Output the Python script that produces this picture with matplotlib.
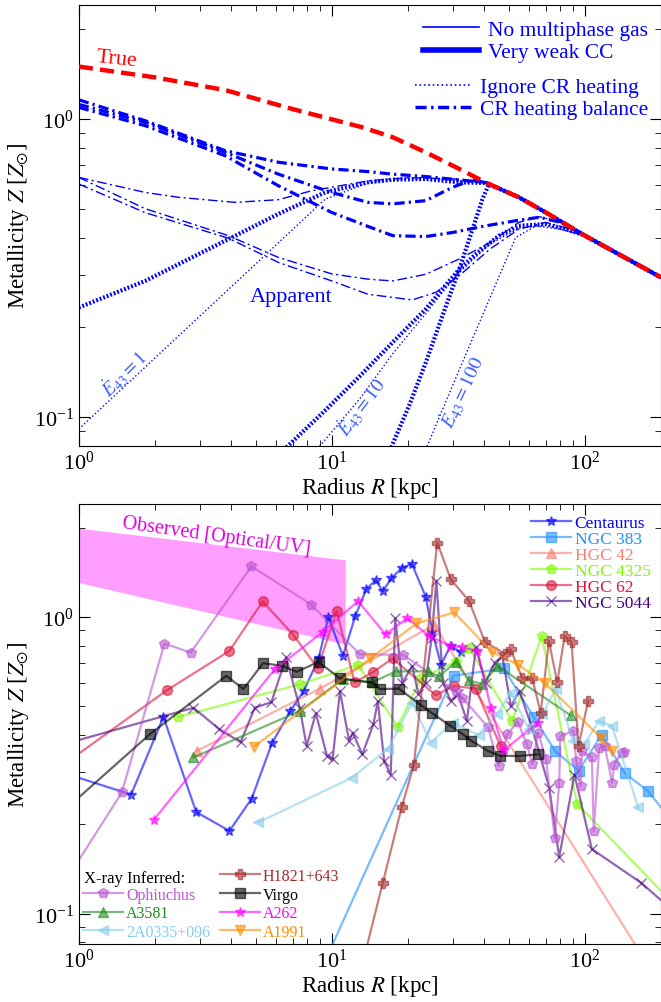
import numpy as np
import matplotlib
matplotlib.use("Agg")
import matplotlib.pyplot as plt
from matplotlib.lines import Line2D

plt.rcParams['font.family'] = ['Liberation Serif', 'DejaVu Serif']
plt.rcParams['mathtext.fontset'] = 'stix'
plt.rcParams['xtick.direction'] = 'in'
plt.rcParams['ytick.direction'] = 'in'
plt.rcParams['xtick.top'] = True
plt.rcParams['ytick.right'] = True
plt.rcParams['xtick.major.size'] = 8
plt.rcParams['ytick.major.size'] = 8
plt.rcParams['xtick.minor.size'] = 4
plt.rcParams['ytick.minor.size'] = 4
plt.rcParams['font.size'] = 15

# ---------------- model curves (top) ----------------
r_true = [1, 2, 3.8, 7, 13.2, 17.4, 23.5, 31.9, 40.6, 54.9, 70, 100, 200]
z_true = [1.50, 1.38, 1.25, 1.08, 0.938, 0.869, 0.773, 0.68, 0.612, 0.546, 0.486, 0.406, 0.294]

# very weak CC, CR heating balance (thick dash-dot)
r_wk_bal_1 = [1, 1.83, 3.79, 6.15, 9.97, 13.9, 17.4, 23.5, 31.9, 40.6, 54.9, 70, 100, 200]
z_wk_bal_1 = [1.16, 0.987, 0.783, 0.716, 0.68, 0.666, 0.653, 0.641, 0.625, 0.612, 0.546, 0.486, 0.406, 0.294]
r_wk_bal_10 = [1, 1.83, 3.79, 6.15, 9.97, 13.9, 17.4, 23.5, 30, 36, 41, 54.9, 70, 100, 200]
z_wk_bal_10 = [1.12, 0.975, 0.773, 0.653, 0.567, 0.525, 0.519, 0.532, 0.59, 0.625, 0.61, 0.546, 0.486, 0.406, 0.294]
r_wk_bal_100 = [1, 1.83, 3.79, 6.15, 9.97, 13.9, 17.4, 23.5, 30, 40.6, 53.7, 66, 80, 100, 200]
z_wk_bal_100 = [1.094, 0.95, 0.753, 0.597, 0.486, 0.436, 0.406, 0.403, 0.416, 0.438, 0.456, 0.468, 0.45, 0.406, 0.294]

# no multiphase gas, CR heating balance (thin dash-dot)
r_nm_bal_1 = [1, 1.83, 2.48, 4.15, 6.15, 8.3, 13.9, 20, 30, 40.6, 54.9, 70, 100, 200]
z_nm_bal_1 = [0.637, 0.567, 0.546, 0.525, 0.536, 0.574, 0.62, 0.635, 0.63, 0.612, 0.546, 0.486, 0.406, 0.294]
r_nm_bal_10 = [1, 1.83, 3.9, 6.15, 10, 13.9, 17.4, 23.5, 31.9, 42.2, 54.9, 66, 80, 100, 200]
z_nm_bal_10 = [0.637, 0.50, 0.406, 0.343, 0.302, 0.29, 0.286, 0.301, 0.339, 0.385, 0.45, 0.47, 0.452, 0.406, 0.294]
r_nm_bal_100 = [1, 1.83, 3.9, 6.15, 10, 13.9, 20.8, 25.8, 31.9, 42.2, 54.9, 70, 85, 100, 200]
z_nm_bal_100 = [0.605, 0.485, 0.398, 0.33, 0.286, 0.258, 0.247, 0.262, 0.298, 0.366, 0.427, 0.45, 0.43, 0.406, 0.294]

# very weak CC, ignore CR heating (thick dotted)
r_wk_ign_1 = [1, 1.83, 3.9, 6.15, 9.4, 13.9, 17.4, 23.5, 31.9, 40.6, 54.9, 70, 100, 200]
z_wk_ign_1 = [0.233, 0.286, 0.395, 0.48, 0.567, 0.613, 0.626, 0.629, 0.613, 0.61, 0.546, 0.486, 0.406, 0.294]
r_wk_ign_10 = [6, 9.4, 12.9, 17.4, 23.5, 27.4, 31.9, 37.1, 45.8, 54.9, 70, 84, 100, 200]
z_wk_ign_10 = [0.073, 0.105, 0.137, 0.178, 0.23, 0.269, 0.313, 0.352, 0.406, 0.438, 0.444, 0.427, 0.406, 0.294]
r_wk_ign_100 = [16.5, 20.2, 23.5, 27.4, 31.9, 36, 39.4, 41.8, 54.9, 70, 100, 200]
z_wk_ign_100 = [0.073, 0.109, 0.152, 0.219, 0.313, 0.427, 0.539, 0.605, 0.546, 0.486, 0.406, 0.294]

# no multiphase gas, ignore CR heating (thin dotted)
r_nm_ign_1 = [1, 2.48, 5.45, 9.4, 13.9, 20, 30, 40.6, 54.9, 70, 100, 200]
z_nm_ign_1 = [0.091, 0.187, 0.349, 0.538, 0.61, 0.628, 0.622, 0.61, 0.546, 0.486, 0.406, 0.294]
r_nm_ign_10 = [8.2, 12.9, 17.4, 23.5, 27.4, 31.9, 42, 55, 70, 84, 100, 200]
z_nm_ign_10 = [0.073, 0.115, 0.163, 0.222, 0.262, 0.305, 0.38, 0.43, 0.44, 0.425, 0.406, 0.294]
r_nm_ign_100 = [22, 31.9, 42, 53.3, 64, 79, 100, 200]
z_nm_ign_100 = [0.068, 0.144, 0.249, 0.40, 0.438, 0.427, 0.406, 0.294]

# ---------------- observations (bottom) ----------------
band_r = [1, 11.3]
band_lo = [1.305, 0.809]
band_hi = [1.99, 1.556]

centaurus_r = [0.7, 1.61, 2.16, 2.91, 3.94, 4.82, 5.80, 6.86, 7.75, 8.87, 9.68, 11.07, 12.4, 13.7,
               14.9, 15.9, 17.2, 18.9, 20.7, 23.5, 25.0, 27.0, 29.5, 32.3]
centaurus_z = [0.316, 0.252, 0.46, 0.22, 0.19, 0.244, 0.375, 0.482, 0.563, 0.724, 0.995, 0.739, 1.01, 1.24,
               1.33, 1.22, 1.35, 1.46, 1.51, 1.17, 0.887, 0.69, 0.80, 0.76]
ngc383_r = [8, 30.3, 47.8, 62.7, 76.5, 94.4, 116.6, 144, 177.5, 250]
ngc383_z = [0.051, 0.633, 0.67, 0.461, 0.352, 0.303, 0.40, 0.297, 0.259, 0.18]
hgc42_r = [2.92, 8.97, 25.4, 300]
hgc42_z = [0.353, 0.573, 0.94, 0.033]
ngc4325_r = [2.47, 7.49, 12.7, 18.2, 22.5, 30.9, 34.9, 51.7, 67.5, 93.3, 250]
ngc4325_z = [0.46, 0.593, 0.689, 0.426, 0.621, 0.706, 0.787, 0.445, 0.863, 0.234, 0.098]
hgc62_r = [0.7, 2.23, 3.94, 5.33, 7.04, 8.8, 10.45, 12.3, 14.6, 17.4, 25.7, 30.5, 37, 46.5]
hgc62_z = [0.278, 0.566, 0.768, 1.127, 0.87, 0.671, 1.047, 0.601, 0.653, 0.724, 0.545, 0.585, 0.573, 0.366]
ngc5044_r = [0.7, 2.84, 3.57, 4.36, 4.96, 5.77, 6.6, 7.47, 7.95, 8.65, 9.57, 10.07, 10.77, 11.7, 12.1,
             13.2, 14.6, 15.2, 16.1, 17.1, 17.8, 19.0, 20.8, 22.0, 23.5, 24.8, 25.9, 27.5, 29.5, 31.5,
             34.2, 37.1, 40.5, 44, 47.2, 51, 55.2, 62, 72.3, 79.2, 91, 106.6, 167, 250]
ngc5044_z = [0.353, 0.494, 0.42, 0.378, 0.494, 0.516, 0.73, 0.494, 0.367, 0.473, 0.34, 0.331, 0.562, 0.382, 0.407,
             0.344, 0.435, 0.52, 0.327, 0.294, 0.99, 0.60, 0.683, 0.55, 0.60, 0.85, 1.32, 0.60, 0.521, 0.55,
             0.446, 0.789, 0.60, 0.70, 0.738, 0.50, 0.562, 0.42, 0.266, 0.155, 0.294, 0.165, 0.127, 0.094]

ophiuchus_r = [0.7, 1.48, 2.18, 2.77, 4.81, 8.3, 12.9, 19.1, 30.9, 32.8, 41.5, 45.6, 49.4, 54.3, 59, 62.1,
               65.3, 70.3, 76, 79.2, 80, 90, 92.5, 96.3, 97.3, 106.6, 108.4, 114, 120, 128, 130.6, 139.7, 143]
ophiuchus_z = [0.094, 0.256, 0.813, 0.758, 1.48, 1.10, 0.748, 0.745, 0.562, 0.534, 0.424, 0.315, 0.402, 0.443,
               0.372, 0.319, 0.407, 0.331, 0.18, 0.275, 0.397, 0.413, 0.327, 0.269, 0.353, 0.336, 0.19, 0.362,
               0.367, 0.276, 0.318, 0.349, 0.351]
a3581_r = [2.84, 7.49, 11.07, 14.4, 17.9, 23.9, 26.6, 30.9, 34.7, 39.4, 45.1, 87.8]
a3581_z = [0.336, 0.482, 0.617, 0.601, 0.655, 0.655, 0.63, 0.706, 0.612, 0.593, 0.684, 0.466]
a2a0335_r = [5.13, 12, 16.7, 20.8, 24.6, 30, 38, 45, 50.9, 60, 68, 76.6, 90, 99.5, 114, 128, 162.5]
a2a0335_z = [0.203, 0.287, 0.36, 0.514, 0.377, 0.44, 0.40, 0.47, 0.556, 0.42, 0.47, 0.57, 0.382, 0.373,
             0.446, 0.429, 0.228]
h1821_r = [13, 15.9, 18.9, 21.1, 26.1, 29.5, 34.9, 40.3, 48.5, 50.9, 56.6, 62, 66.9, 72.1, 77.8, 83.2,
           88.6, 94.4, 103]
h1821_z = [0.064, 0.127, 0.229, 0.317, 1.78, 1.34, 1.13, 0.822, 0.75, 0.778, 0.62, 0.62, 0.475, 0.83,
           0.601, 0.863, 0.822, 0.367, 0.521]
virgo_r = [0.7, 1.92, 3.83, 4.47, 5.35, 6.36, 7.26, 8.86, 10.77, 14.4, 15.5, 18.4, 22.5, 25, 29.4, 33,
           35.6, 41.5, 46.1, 55.2, 65.1]
virgo_z = [0.188, 0.404, 0.633, 0.571, 0.698, 0.684, 0.653, 0.705, 0.62, 0.601, 0.571, 0.573, 0.504,
           0.473, 0.429, 0.402, 0.382, 0.353, 0.34, 0.34, 0.344]
a262_r = [1.98, 5.94, 9.2, 12.7, 16.3, 19.9, 24.2, 29.3, 32.8, 37.6, 42.5, 47.8, 65.3]
a262_z = [0.207, 0.665, 0.889, 1.13, 0.873, 0.99, 0.862, 0.80, 0.789, 0.768, 0.494, 0.355, 0.44]
a1991_r = [4.92, 14.2, 21.6, 30.5, 42.8, 54.6, 69.5, 115.7, 128]
a1991_z = [0.365, 0.724, 0.95, 1.035, 0.762, 0.689, 0.598, 0.392, 0.353]

fig = plt.figure(figsize=(6.61, 10.03), dpi=100)
ax1 = fig.add_axes([0.1192, 0.5546, 0.8808, 0.4397])
ax2 = fig.add_axes([0.1192, 0.0578, 0.8808, 0.4387])

# top panel: line width picks the cooling case, dash pattern the heating case
thin, thick = 1.0, 2.3
dd_thin = (0, (7, 2.5, 1.5, 2.5))
dd_thick = (0, (3.2, 1.3, 0.7, 1.3))
dot_thick = (0, (0.45, 0.45))
ax1.plot(r_true, z_true, color='red', ls=(0, (3.2, 1.6)), lw=3.2, zorder=3)
for r, z in [(r_wk_bal_1, z_wk_bal_1), (r_wk_bal_10, z_wk_bal_10), (r_wk_bal_100, z_wk_bal_100)]:
    ax1.plot(r, z, color='blue', ls=dd_thick, lw=thick)
for r, z in [(r_nm_bal_1, z_nm_bal_1), (r_nm_bal_10, z_nm_bal_10), (r_nm_bal_100, z_nm_bal_100)]:
    ax1.plot(r, z, color='blue', ls=dd_thin, lw=thin)
for r, z in [(r_wk_ign_1, z_wk_ign_1), (r_wk_ign_10, z_wk_ign_10), (r_wk_ign_100, z_wk_ign_100)]:
    ax1.plot(r, z, color='blue', ls=dot_thick, lw=3.0, dash_capstyle='butt')
for r, z in [(r_nm_ign_1, z_nm_ign_1), (r_nm_ign_10, z_nm_ign_10), (r_nm_ign_100, z_nm_ign_100)]:
    ax1.plot(r, z, color='blue', ls=':', lw=thin)

ax1.text(1.41, 1.59, 'True', color='red', fontsize=16, rotation=-6, ha='center', va='center')
ax1.text(6.9, 0.254, 'Apparent', color='blue', fontsize=16, ha='center', va='center')
lab_col = '#3a5cff'
ax1.text(1.51, 0.14, r'$\dot{E}_{43}=1$', color=lab_col, fontsize=14, rotation=45, ha='center', va='center')
ax1.text(13.1, 0.109, r'$\dot{E}_{43}=10$', color=lab_col, fontsize=14, rotation=53, ha='center', va='center')
ax1.text(32.7, 0.122, r'$\dot{E}_{43}=100$', color=lab_col, fontsize=14, rotation=65, ha='center', va='center')

h1 = [Line2D([], [], color='blue', lw=1.2), Line2D([], [], color='blue', lw=4)]
leg1 = ax1.legend(h1, ['No multiphase gas', 'Very weak CC'], loc='upper right', frameon=False,
                  fontsize=15.5, handlelength=2.6, handletextpad=0.4, labelspacing=0.1,
                  borderaxespad=0.2, bbox_to_anchor=(1.0, 0.995))
for t in leg1.get_texts():
    t.set_color('blue')
ax1.add_artist(leg1)
h2 = [Line2D([], [], color='blue', lw=1.2, ls=':'), Line2D([], [], color='blue', lw=2.5, ls=dd_thick)]
leg2 = ax1.legend(h2, ['Ignore CR heating', 'CR heating balance'], loc='upper right', frameon=False,
                  fontsize=15.5, handlelength=2.6, handletextpad=0.4, labelspacing=0.1,
                  borderaxespad=0.2, bbox_to_anchor=(1.0, 0.865))
for t in leg2.get_texts():
    t.set_color('blue')

# bottom panel
ax2.fill_between(band_r, band_lo, band_hi, color='magenta', alpha=0.38, lw=0, zorder=0)
ax2.text(3.5, 1.87, 'Observed [Optical/UV]', color='#e000e0', fontsize=14.5, rotation=-8,
         ha='center', va='center')

kw = dict(alpha=0.6, lw=1.6, ms=7)
series_top = [
    (centaurus_r, centaurus_z, 'blue', '*', 'Centaurus'),
    (ngc383_r, ngc383_z, 'dodgerblue', 's', 'NGC 383'),
    (hgc42_r, hgc42_z, 'salmon', '^', 'HGC 42'),
    (ngc4325_r, ngc4325_z, 'lawngreen', 'p', 'NGC 4325'),
    (hgc62_r, hgc62_z, 'crimson', 'o', 'HGC 62'),
    (ngc5044_r, ngc5044_z, 'indigo', 'x', 'NGC 5044'),
]
series_xray = [
    (ophiuchus_r, ophiuchus_z, 'mediumorchid', 'p', 'Ophiuchus'),
    (a3581_r, a3581_z, 'forestgreen', '^', 'A3581'),
    (a2a0335_r, a2a0335_z, 'skyblue', '<', '2A0335+096'),
    (h1821_r, h1821_z, 'brown', 'P', 'H1821+643'),
    (virgo_r, virgo_z, 'black', 's', 'Virgo'),
    (a262_r, a262_z, 'magenta', '*', 'A262'),
    (a1991_r, a1991_z, 'darkorange', 'v', 'A1991'),
]
top_handles = []
for r, z, c, m, name in series_top:
    ln, = ax2.plot(r, z, color=c, marker=m, label=name, **kw)
    top_handles.append(ln)
xray_handles = []
for r, z, c, m, name in series_xray:
    ln, = ax2.plot(r, z, color=c, marker=m, label=name, **kw)
    xray_handles.append(ln)

leg3 = ax2.legend(top_handles, [s[4] for s in series_top], loc='upper right', frameon=False,
                  fontsize=12.5, handlelength=2.3, handletextpad=0.2, labelspacing=0.0,
                  borderaxespad=0.2)
for t, s in zip(leg3.get_texts(), series_top):
    t.set_color(s[2])
ax2.add_artist(leg3)

blank = Line2D([], [], color='none')
hx = [blank] + xray_handles
lx = [' '] + [s[4] for s in series_xray]
leg4 = ax2.legend(hx, lx, loc='lower left', ncol=2, frameon=False, fontsize=11.5,
                  handlelength=2.5, handletextpad=0.2, labelspacing=0.17, columnspacing=0.6,
                  borderaxespad=0.1, borderpad=0.15)
for t, s in zip(leg4.get_texts()[1:], series_xray):
    t.set_color(s[2])
ax2.text(0.009, 0.15, 'X-ray Inferred:', transform=ax2.transAxes, fontsize=12, va='center')

for ax in (ax1, ax2):
    ax.set_xscale('log')
    ax.set_yscale('log')
    ax.set_xlim(1, 200)
    ax.set_xlabel(r'Radius $R$ [kpc]', fontsize=16.5, labelpad=1)
    ax.set_ylabel(r'Metallicity $Z$ [$Z_{\odot}$]', fontsize=16.5, labelpad=2)
    ax.tick_params(which='both', labelsize=16)
ax1.set_ylim(0.08, 2.42)
ax2.set_ylim(0.079, 2.4)

fig.savefig('out.png', dpi=100)
